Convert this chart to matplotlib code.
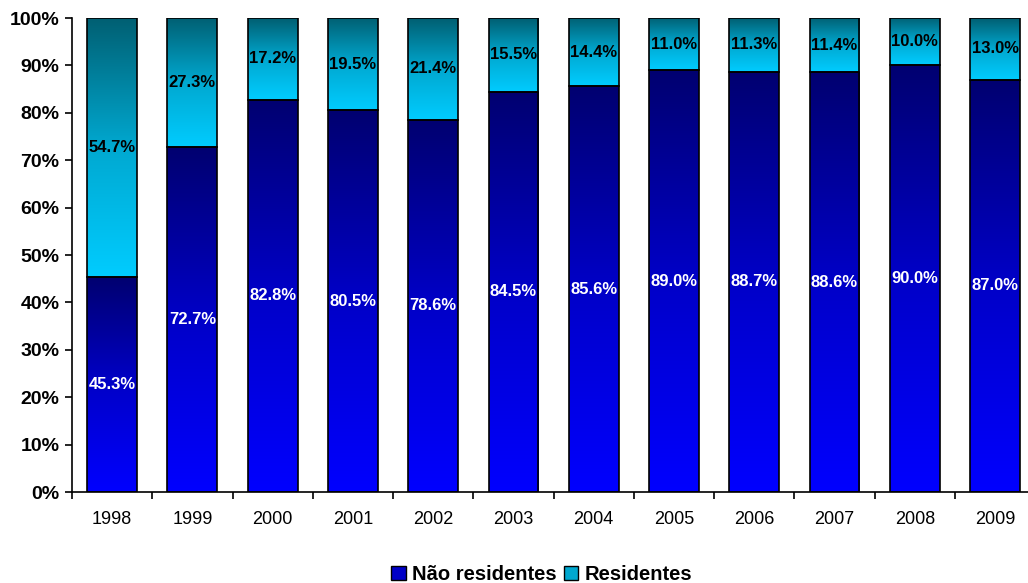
import matplotlib.pyplot as plt
import numpy as np
from matplotlib.colors import LinearSegmentedColormap
from matplotlib.patches import Patch

plt.rcParams['font.family'] = ['Liberation Sans', 'DejaVu Sans']

years = ['1998', '1999', '2000', '2001', '2002', '2003',
         '2004', '2005', '2006', '2007', '2008', '2009']
nao_residentes = [45.3, 72.7, 82.8, 80.5, 78.6, 84.5, 85.6, 89.0, 88.7, 88.6, 90.0, 87.0]
residentes = [54.7, 27.3, 17.2, 19.5, 21.4, 15.5, 14.4, 11.0, 11.3, 11.4, 10.0, 13.0]

# vertical gradients, bottom -> top of each segment
cmap_nr = LinearSegmentedColormap.from_list('nr', ['#0000ff', '#0000c8', '#000070'])
cmap_r = LinearSegmentedColormap.from_list('r', ['#00ccff', '#00a8d0', '#005f72'])
grad = np.linspace(0, 1, 256).reshape(-1, 1)

fig = plt.figure(figsize=(10.28, 5.83), dpi=100)
ax = fig.add_axes([0.070, 0.156, 0.930, 0.813])

x = np.arange(len(years))
width = 0.62

for i in x:
    segs = [(0, nao_residentes[i], cmap_nr, 'white'),
            (nao_residentes[i], nao_residentes[i] + residentes[i], cmap_r, 'black')]
    for y0, y1, cm, tc in segs:
        ax.imshow(grad, extent=[i - width / 2, i + width / 2, y0, y1],
                  origin='lower', aspect='auto', cmap=cm, zorder=1)
        ax.bar(i, y1 - y0, width, bottom=y0, facecolor='none',
               edgecolor='black', linewidth=1.2, zorder=2)
        ax.text(i, (y0 + y1) / 2, f"{y1 - y0:.1f}%", color=tc,
                ha='center', va='center', fontsize=12, fontweight='bold', zorder=3)

ax.set_xlim(-0.5, 11.41)
ax.set_ylim(0, 100)

ax.set_yticks(np.arange(0, 101, 10))
ax.set_yticklabels([f"{v}%" for v in range(0, 101, 10)], fontsize=14, fontweight='bold')
ax.tick_params(axis='y', direction='out', length=5, width=1.2, pad=4)

ax.set_xticks(x)
ax.set_xticklabels(years, fontsize=13)
ax.set_xticks(np.arange(-0.5, 11.5, 1), minor=True)
ax.tick_params(axis='x', which='major', length=0, pad=14)
ax.tick_params(axis='x', which='minor', direction='out', length=5, width=1.2)

for side in ['top', 'right']:
    ax.spines[side].set_visible(False)
for side in ['left', 'bottom']:
    ax.spines[side].set_linewidth(1.2)

handles = [Patch(facecolor='#0000c8', edgecolor='black', label='Não residentes'),
           Patch(facecolor='#00a8d0', edgecolor='black', label='Residentes')]
fig.legend(handles=handles, loc='center', bbox_to_anchor=(0.527, 0.015), ncol=2,
           frameon=False, prop={'size': 14.5, 'weight': 'bold'},
           handlelength=0.7, handleheight=0.7, handletextpad=0.3, columnspacing=0.4)

fig.savefig('out.png', dpi=100)
